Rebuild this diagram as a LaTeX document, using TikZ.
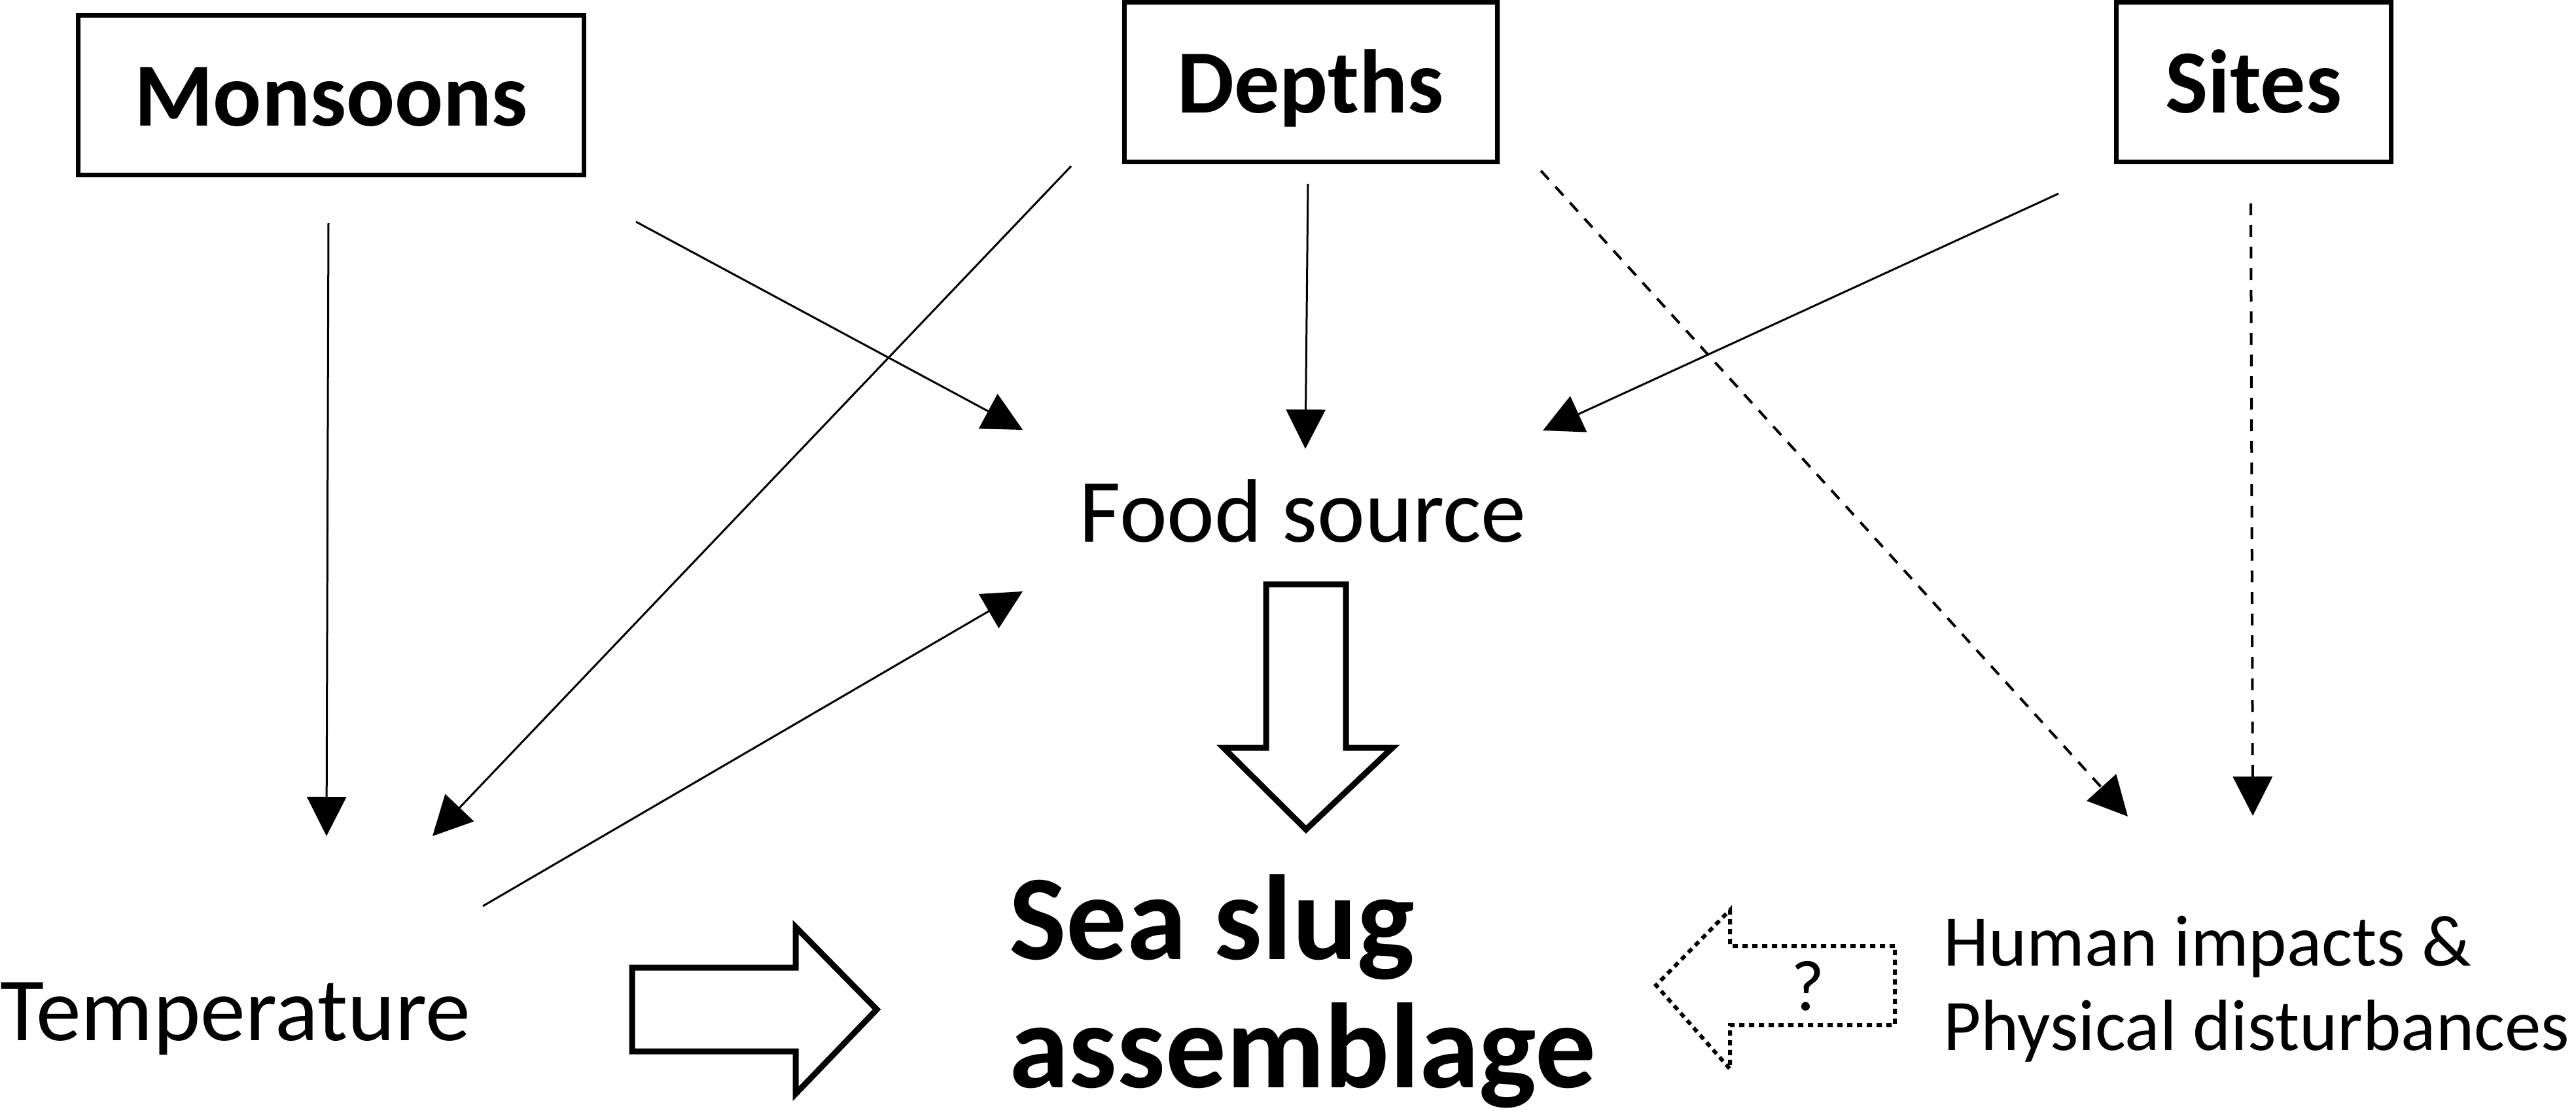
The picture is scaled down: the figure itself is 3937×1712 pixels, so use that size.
\documentclass[tikz,border=0pt]{standalone}
\usepackage{fontspec}
\setmainfont{Carlito}
\usetikzlibrary{arrows.meta}
\begin{document}
\begin{tikzpicture}[x=1pt,y=-1pt,
  box/.style={draw,line width=7pt,inner sep=0pt,text height=94pt,text depth=0pt,
    font=\fontsize{138pt}{166pt}\selectfont\bfseries},
  lbl/.style={inner sep=0pt,font=\fontsize{138pt}{166pt}\selectfont},
  slugtxt/.style={inner sep=0pt,anchor=base west,font=\fontsize{185pt}{210pt}\selectfont\bfseries},
  humtxt/.style={inner sep=0pt,anchor=base west,font=\fontsize{111pt}{130pt}\selectfont},
  thinarrow/.style={line width=3pt,-{Triangle[length=60pt,width=60pt]}},
  dasharrow/.style={line width=4pt,dash pattern=on 18pt off 15pt,-{Triangle[length=60pt,width=60pt]}},
  hollow/.style={draw,line width=9pt,fill=white,line join=miter},
  dotarrow/.style={draw,line width=6pt,dash pattern=on 8pt off 7pt,line join=miter}]
\fill[white] (0,0) rectangle (3937,1712);
\useasboundingbox (0,0) rectangle (3937,1712);

% boxes
\node[box,minimum width=773pt,minimum height=244pt] (mon) at (506,146) {Monsoons};
\node[box,minimum width=570pt,minimum height=244pt] (dep) at (2003,126) {Depths};
\node[box,minimum width=420pt,minimum height=244pt] (sit) at (3444,126) {Sites};

% texts
\node[lbl,anchor=base] (food) at (1991,828) {Food source};
\node[lbl,anchor=base west] (temp) at (0,1590) {Temperature};
\node[slugtxt] (slug) at (1542,1466) {Sea slug};
\node[slugtxt] (slugb) at (1542,1662) {assemblage};
\node[humtxt] (hum) at (2970,1476) {Human impacts \&};
\node[humtxt] (humb) at (2970,1605) {Physical disturbances};

% connector end points
\coordinate (m1s) at (502,341);   \coordinate (m1e) at (499,1278);
\coordinate (m2s) at (972,339);   \coordinate (m2e) at (1563,657);
\coordinate (d1s) at (1637,254);  \coordinate (d1e) at (661,1278);
\coordinate (d2s) at (1999,281);  \coordinate (d2e) at (1995,686);
\coordinate (d3s) at (2355,261);  \coordinate (d3e) at (3252,1248);
\coordinate (s1s) at (3146,296);  \coordinate (s1e) at (2358,658);
\coordinate (s2s) at (3440,311);  \coordinate (s2e) at (3443,1247);
\coordinate (t1s) at (738,1385);  \coordinate (t1e) at (1563,904);

\draw[thinarrow] (m1s) -- (m1e);
\draw[thinarrow] (m2s) -- (m2e);
\draw[thinarrow] (d1s) -- (d1e);
\draw[thinarrow] (d2s) -- (d2e);
\draw[dasharrow] (d3s) -- (d3e);
\draw[thinarrow] (s1s) -- (s1e);
\draw[dasharrow] (s2s) -- (s2e);
\draw[thinarrow] (t1s) -- (t1e);

% hollow block arrows
\draw[hollow] (1935,893) -- (2057,893) -- (2057,1143) -- (2128,1143) -- (1996,1268)
  -- (1870,1143) -- (1935,1143) -- cycle;
\draw[hollow] (966,1479) -- (1216,1479) -- (1216,1417) -- (1340,1543) -- (1216,1672)
  -- (1216,1607) -- (966,1607) -- cycle;
\draw[dotarrow] (2896,1446) -- (2644,1446) -- (2644,1391) -- (2531,1506) -- (2644,1634)
  -- (2644,1567) -- (2896,1567) -- cycle;
\node[inner sep=0pt,anchor=base,font=\fontsize{110pt}{130pt}\selectfont] (q) at (2763,1544) {?};
\end{tikzpicture}
\end{document}
